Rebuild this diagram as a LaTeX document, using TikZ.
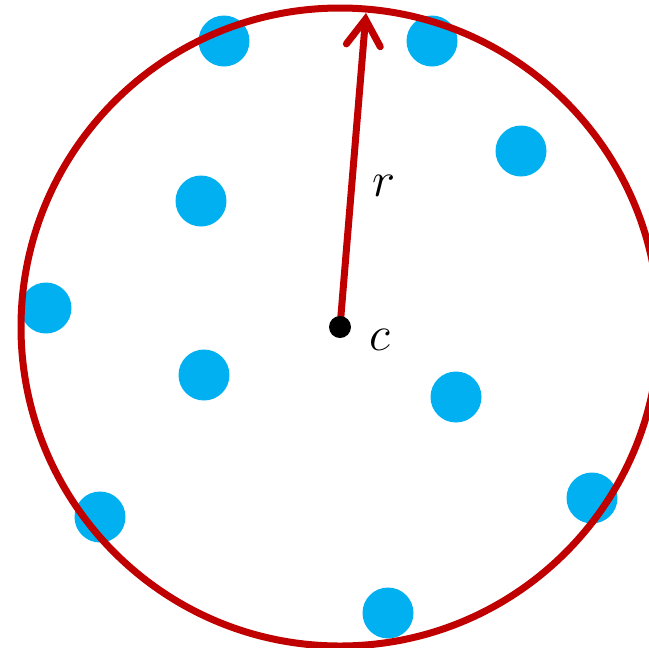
\documentclass[tikz,border=0pt]{standalone}
\usetikzlibrary{arrows.meta}
\definecolor{ringred}{RGB}{192,0,0}
\definecolor{dotblue}{RGB}{0,176,240}
\newcommand{\biglbl}[1]{\scalebox{1.35}{$#1$}}
\tikzset{
  pt/.style={circle,fill=dotblue,inner sep=0pt,minimum size=1.02cm},
  ctr/.style={circle,fill=black,inner sep=0pt,minimum size=0.44cm},
  lbl/.style={font=\huge,inner sep=0pt}
}
\begin{document}
\begin{tikzpicture}[x=0.02cm,y=-0.02cm]
                \useasboundingbox (0,0) rectangle (649,647);
                \clip (0,0) rectangle (649,647);
                % points
                \node[pt] (p1) at (224,41) {};
                \node[pt] (p2) at (432,41) {};
                \node[pt] (p3) at (521,151) {};
                \node[pt] (p4) at (201,201) {};
                \node[pt] (p5) at (46,308) {};
                \node[pt] (p6) at (204,375) {};
                \node[pt] (p7) at (456,397) {};
                \node[pt] (p8) at (100,517) {};
                \node[pt] (p9) at (592,498) {};
                \node[pt] (p10) at (388,613) {};
                % enclosing circle
                \coordinate (o) at (340,327);
                \draw[ringred,line width=0.14cm] (o) circle (319);
                \coordinate (top) at (366,13);
                \draw[-{Straight Barb[length=0.52cm,width=0.68cm,line cap=round]},ringred,line width=0.14cm] (o) -- (top);
                \node[ctr] (c) at (o) {};
                \node[lbl] (rl) at (384,186) {\biglbl{r}};
                \node[lbl] (cl) at (380,340) {\biglbl{c}};
            \end{tikzpicture}
\end{document}
